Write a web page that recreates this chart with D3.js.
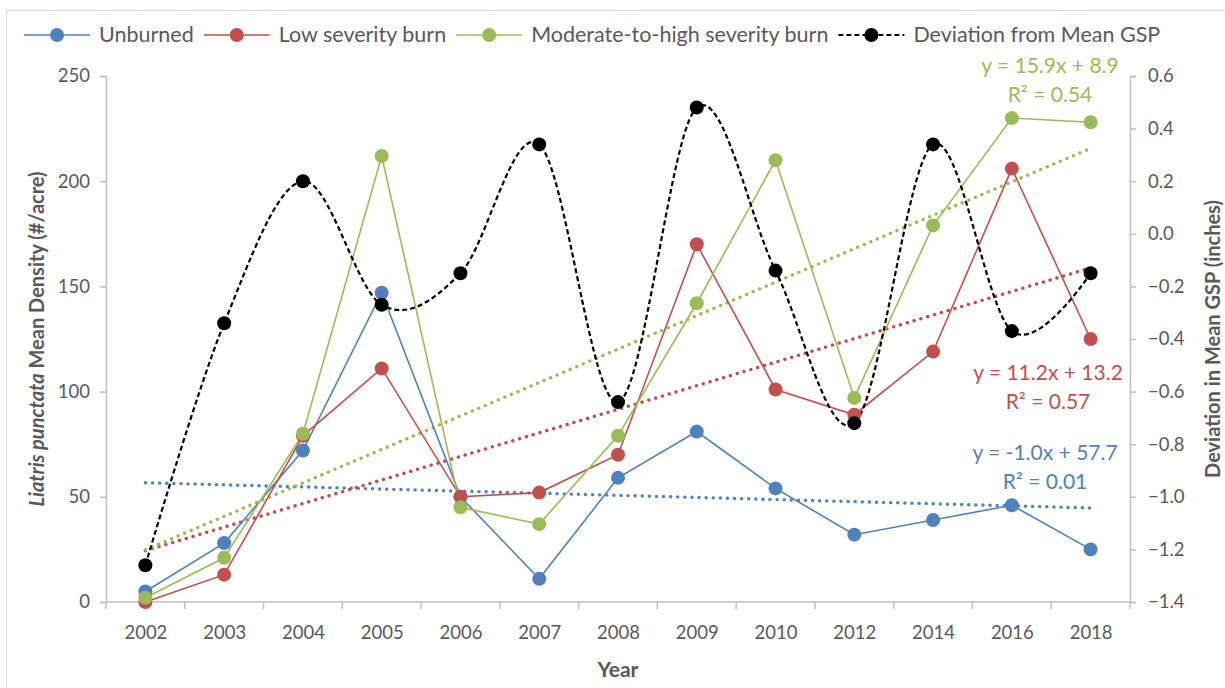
<!DOCTYPE html>
<html><head><meta charset="utf-8">
<script src="https://cdn.jsdelivr.net/npm/d3@7/dist/d3.min.js"></script>
<style>body{margin:0;background:#fff;} svg{display:block;font-family:Lato,"Open Sans",sans-serif;}</style>
</head><body>
<svg id="c" width="1225" height="688"></svg>
<script>
const years = ["2002","2003","2004","2005","2006","2007","2008","2009","2010","2012","2014","2016","2018"];
const unburned = [5, 28, 72, 147, 50, 11, 59, 81, 54, 32, 39, 46, 25];
const lowSeverity = [0, 13, 79, 111, 50, 52, 70, 170, 101, 89, 119, 206, 125];
const modHighSeverity = [2, 21, 80, 212, 45, 37, 79, 142, 210, 97, 179, 230, 228];
const gspDeviation = [-1.26, -0.34, 0.20, -0.27, -0.15, 0.34, -0.64, 0.48, -0.14, -0.72, 0.34, -0.37, -0.15];
const seriesNames = ["Unburned", "Low severity burn", "Moderate-to-high severity burn", "Deviation from Mean GSP"];
const trendSlopes = [-1.0, 11.2, 15.9];
const trendIntercepts = [57.7, 13.2, 8.9];
const trendR2 = ["0.01", "0.57", "0.54"];
const leftTicks = [0, 50, 100, 150, 200, 250];
const rightTicks = [-1.4, -1.2, -1.0, -0.8, -0.6, -0.4, -0.2, 0.0, 0.2, 0.4, 0.6];

const colors = ["#4F81BD", "#C0504D", "#9BBB59", "#000000"];
const grey = "#595959", axisGrey = "#BFBFBF";
const svg = d3.select("#c");
const L = 106, R = 1130, T = 76, B = 602;

// outer border
svg.append("rect").attr("x", 6.5).attr("y", 10.5).attr("width", 1240).attr("height", 700)
  .attr("fill", "none").attr("stroke", "#D9D9D9");

const x = d3.scalePoint().domain(years).range([L, R]).padding(0.5);
const yL = d3.scaleLinear().domain([0, 250]).range([B, T]);
const yR = d3.scaleLinear().domain([-1.4, 0.6]).range([B, T]);

// axes
const gL = svg.append("g").attr("transform", `translate(${L},0)`)
  .call(d3.axisLeft(yL).tickValues(leftTicks).tickSize(6).tickPadding(10));
const gR = svg.append("g").attr("transform", `translate(${R},0)`)
  .call(d3.axisRight(yR).tickValues(rightTicks).tickSize(6).tickPadding(12).tickFormat(d3.format(".1f")));
const band = d3.scaleBand().domain(years).range([L, R]);
const gX = svg.append("g").attr("transform", `translate(0,${B})`)
  .call(d3.axisBottom(x).tickSize(0).tickPadding(24));
// x boundary ticks
gX.selectAll("line.bt").data(years.concat(["end"])).join("line").attr("class", "bt")
  .attr("x1", (d, i) => L + i * band.step()).attr("x2", (d, i) => L + i * band.step())
  .attr("y1", 0).attr("y2", 7).attr("stroke", axisGrey).attr("stroke-width", 1.5);
[gL, gR, gX].forEach(g => {
  g.selectAll(".domain").attr("stroke", axisGrey).attr("stroke-width", 1.5);
  g.selectAll(".tick line").attr("stroke", axisGrey).attr("stroke-width", 1.5);
  g.selectAll("text").attr("fill", grey).style("font-size", "18.5px").style("font-family", "Lato, sans-serif");
});
gX.select(".domain").attr("d", `M${L},0H${R}`);

// trendlines
const allSeries = [unburned, lowSeverity, modHighSeverity];
allSeries.forEach((s, k) => {
  const pts = [0, years.length - 1].map(i => [x(years[i]), yL(trendSlopes[k] * (i + 1) + trendIntercepts[k])]);
  svg.append("path").attr("d", d3.line()(pts)).attr("fill", "none")
    .attr("stroke", colors[k]).attr("stroke-width", 3.4).attr("stroke-linecap", "round")
    .attr("stroke-dasharray", "0.1,7");
});

// series lines
allSeries.forEach((s, k) => {
  svg.append("path").datum(s).attr("fill", "none").attr("stroke", colors[k]).attr("stroke-width", 1.6)
    .attr("d", d3.line().x((d, i) => x(years[i])).y(d => yL(d)));
});
// GSP smooth dashed
svg.append("path").datum(gspDeviation).attr("fill", "none").attr("stroke", "#000").attr("stroke-width", 2.2)
  .attr("stroke-dasharray", "5,3")
  .attr("d", d3.line().x((d, i) => x(years[i])).y(d => yR(d)).curve(d3.curveCardinal.tension(0)));

// markers
allSeries.forEach((s, k) => {
  svg.append("g").selectAll("circle").data(s).join("circle")
    .attr("cx", (d, i) => x(years[i])).attr("cy", d => yL(d)).attr("r", 7).attr("fill", colors[k]);
});
svg.append("g").selectAll("circle").data(gspDeviation).join("circle")
  .attr("cx", (d, i) => x(years[i])).attr("cy", d => yR(d)).attr("r", 7).attr("fill", "#000");

// trend labels
const lblPos = [[1045, 460, 489], [1048, 380, 409], [1050, 73, 102]];
allSeries.forEach((s, k) => {
  const sign = trendIntercepts[k] >= 0 ? "+" : "-";
  const eq = `y = ${trendSlopes[k].toFixed(1)}x ${sign} ${Math.abs(trendIntercepts[k]).toFixed(1)}`;
  const g = svg.append("g").attr("fill", colors[k]).style("font-size", "21px").attr("text-anchor", "middle");
  g.append("text").attr("x", lblPos[k][0]).attr("y", lblPos[k][1]).text(eq);
  g.append("text").attr("x", lblPos[k][0]).attr("y", lblPos[k][2]).text(`R² = ${trendR2[k]}`);
});

// axis titles
const lt = svg.append("text").attr("transform", `translate(44,${(T + B) / 2}) rotate(-90)`)
  .attr("text-anchor", "middle").attr("fill", grey).style("font-size", "20px").style("font-weight", "bold");
lt.append("tspan").style("font-style", "italic").text("Liatris punctata");
lt.append("tspan").text(" Mean Density (#/acre)");
svg.append("text").attr("transform", `translate(1220,${(T + B) / 2}) rotate(-90)`)
  .attr("text-anchor", "middle").attr("fill", grey).style("font-size", "20px").style("font-weight", "bold")
  .text("Deviation in Mean GSP (inches)");
svg.append("text").attr("x", (L + R) / 2).attr("y", 677).attr("text-anchor", "middle")
  .attr("fill", grey).style("font-size", "21px").style("font-weight", "bold").text("Year");

// legend
let lx = 24;
const ly = 35;
seriesNames.forEach((n, k) => {
  const g = svg.append("g");
  g.append("line").attr("x1", lx).attr("x2", lx + 66).attr("y1", ly).attr("y2", ly)
    .attr("stroke", colors[k]).attr("stroke-width", k === 3 ? 2.2 : 1.6)
    .attr("stroke-dasharray", k === 3 ? "5,3" : null);
  g.append("circle").attr("cx", lx + 33).attr("cy", ly).attr("r", 7).attr("fill", colors[k]);
  const t = g.append("text").attr("x", lx + 75).attr("y", ly + 7).attr("fill", grey)
    .style("font-size", "21.5px").text(n);
  lx += 75 + t.node().getComputedTextLength() + 10;
});
</script>
</body></html>
